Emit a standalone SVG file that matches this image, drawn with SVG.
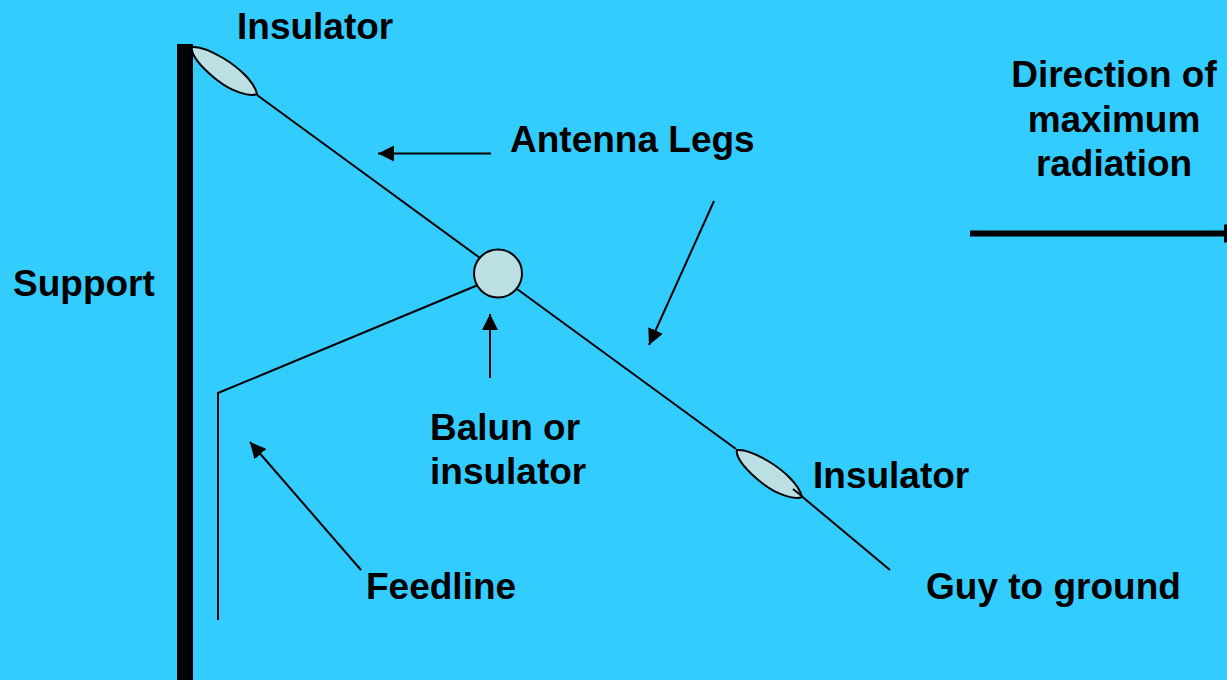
<svg xmlns="http://www.w3.org/2000/svg" width="1227" height="680" viewBox="0 0 1227 680">
<style>
.t{font-family:"Liberation Sans",Arial,sans-serif;font-size:37px;font-weight:bold;fill:#000}
.w{fill:none;stroke:#000;stroke-width:2}
.b{fill:#bbdfe2;stroke:#000;stroke-width:2}
</style>
<defs>
<marker id="h" markerUnits="userSpaceOnUse" markerWidth="16" markerHeight="16" refX="16" refY="8" orient="auto"><path d="M0 0L16 8L0 16Z" fill="#000"/></marker>
<path id="ins" d="M192 47C202 46 213 52 223 58C238 67 254 81 257 94C250 97 232 92 217 80C203 69 190 55 192 47Z"/>
</defs>
<rect width="1227" height="680" fill="#33ccff"/>
<g id="support"><rect x="177" y="44" width="16" height="636" fill="#000"/><text class="t" x="13" y="296">Support</text></g>
<g id="connectors">
<path class="w" d="M257 95L480 258"/>
<path class="w" d="M517 289L736 449"/>
<path class="w" d="M793 489L890 570"/>
<path class="w" d="M478 285L218 393V620"/>
<path class="w" marker-end="url(#h)" d="M491 153.500H378"/>
<path class="w" marker-end="url(#h)" d="M714 201L649 345"/>
<path class="w" marker-end="url(#h)" d="M490 378V314"/>
<path class="w" marker-end="url(#h)" d="M361 570L250 442"/>
<path fill="none" stroke="#000" stroke-width="6" d="M970 233.500H1226"/>
<path d="M1224 224.500L1227 224.500V242.500L1224 242.500Z" fill="#000"/>
</g>
<g id="insulator-top"><use href="#ins" class="b"/><text class="t" x="237" y="39">Insulator</text></g>
<g id="balun"><circle class="b" cx="498" cy="273.500" r="24"/><text class="t" x="430" y="440">Balun or</text><text class="t" x="430" y="484">insulator</text></g>
<g id="insulator-bottom"><use href="#ins" class="b" x="545" y="403"/><path class="w" d="M793 489L803 497"/><text class="t" x="813" y="488">Insulator</text></g>
<g id="labels">
<text class="t" x="510" y="152">Antenna Legs</text>
<text class="t" x="366" y="599">Feedline</text>
<text class="t" x="926" y="599">Guy to ground</text>
<text class="t" text-anchor="middle" x="1114" y="87">Direction of</text>
<text class="t" text-anchor="middle" x="1114" y="132">maximum</text>
<text class="t" text-anchor="middle" x="1114" y="176">radiation</text>
</g>
</svg>
